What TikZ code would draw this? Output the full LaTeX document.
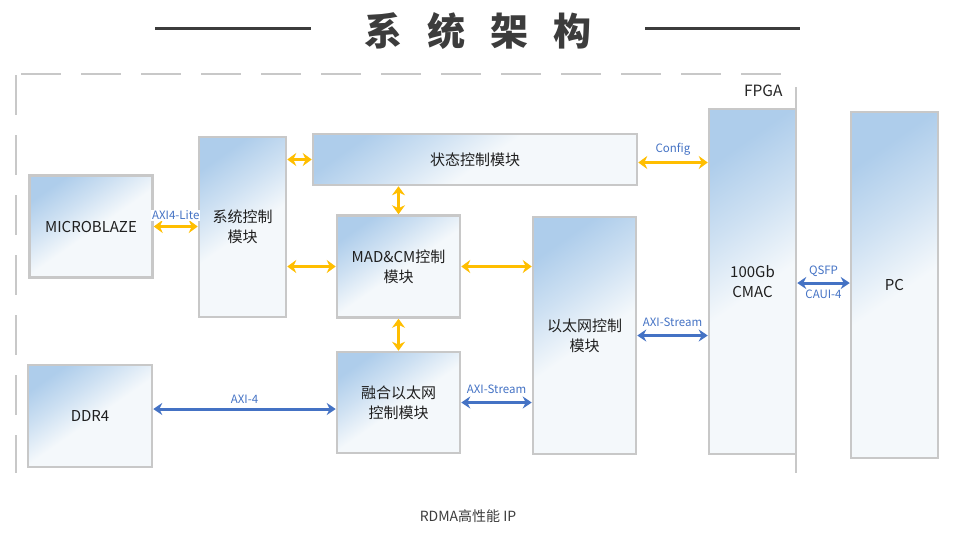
\documentclass[tikz,border=0pt]{standalone}
\usepackage{fontspec}
\setmainfont{Noto Sans CJK SC}
\usetikzlibrary{arrows.meta}
\definecolor{boxblue}{RGB}{174,205,235}
\definecolor{boxwhite}{RGB}{244,248,251}
\definecolor{edgegray}{RGB}{200,200,200}
\definecolor{linkgold}{RGB}{255,190,0}
\definecolor{linkblue}{RGB}{68,114,196}
\definecolor{titlegray}{RGB}{60,60,60}
\pgfdeclareverticalshading{boxshade}{100bp}{color(0bp)=(boxwhite); color(25bp)=(boxwhite); color(48bp)=(boxwhite); color(62bp)=(boxblue!55!boxwhite); color(75bp)=(boxblue); color(100bp)=(boxblue)}
\tikzset{
  blk/.style={draw=edgegray, line width=2.5pt, shade, shading=boxshade, shading angle=35,
    align=center, inner sep=0pt, text=black!88, font=\fontsize{15}{20}\selectfont},
  goldlink/.style={linkgold, line width=3.5pt,
    {Stealth[length=9pt,width=13pt]}-{Stealth[length=9pt,width=13pt]}},
  bluelink/.style={linkblue, line width=3pt,
    {Stealth[length=9pt,width=12pt]}-{Stealth[length=9pt,width=12pt]}},
  lbl/.style={text=linkblue, font=\fontsize{11.5}{12}\selectfont, inner sep=1pt}
}
\begin{document}
\begin{tikzpicture}[x=1pt, y=-1pt]
\useasboundingbox (0,0) rectangle (974,542);

% title
\node[text=titlegray, font=\fontsize{38}{42}\bfseries] (title) at (478,31)
  {系\hspace{25pt}统\hspace{25pt}架\hspace{25pt}构};
\draw[titlegray, line width=3pt] (155,28) -- (311,28);
\draw[titlegray, line width=3pt] (645,28) -- (800,28);

% FPGA border
\draw[edgegray, line width=2pt, dash pattern=on 40pt off 20pt] (21,74) -- (781,74);
\draw[edgegray, line width=2pt, dash pattern=on 40pt off 20pt] (16,75) -- (16,473);
\draw[edgegray, line width=2pt] (796,87) -- (796,473);
\node[font=\fontsize{15.5}{18}\selectfont, text=black!85, anchor=east] (fpga) at (786,91) {FPGA};

% blocks
\node[blk, minimum width=123pt, minimum height=102pt] (mb) at (91,226.5) {MICROBLAZE};
\node[blk, minimum width=87pt, minimum height=180pt] (sys) at (242.5,227) {系统控制\\模块};
\node[blk, minimum width=324pt, minimum height=51pt] (stat) at (475,159.5) {状态控制模块};
\node[blk, minimum width=123pt, minimum height=102pt] (mad) at (398.5,266.5) {MAD\&CM控制\\模块};
\node[blk, minimum width=103pt, minimum height=237pt] (eth) at (584.5,335.5) {以太网控制\\模块};
\node[blk, minimum width=123pt, minimum height=101pt] (fuse) at (398.5,402.5) {融合以太网\\控制模块};
\node[blk, minimum width=124pt, minimum height=102pt] (ddr) at (90,416) {DDR4};
\node[blk, minimum width=87pt, minimum height=345pt] (cmac) at (752.5,281.5) {100Gb\\CMAC};
\node[blk, minimum width=87pt, minimum height=346pt] (pc) at (894.5,285) {PC};

% gold links
\draw[goldlink] (mb.east) -- (mb.east -| sys.west)
  node[lbl, midway, above=4pt, fill=white] {AXI4-Lite};
\draw[goldlink] (stat.west -| sys.east) -- (stat.west);
\draw[goldlink] (mad.west -| sys.east) -- (mad.west);
\draw[goldlink] (mad.north) -- (mad.north |- stat.south);
\draw[goldlink] (mad.south) -- (mad.south |- fuse.north);
\draw[goldlink] (mad.east) -- (mad.east -| eth.west);
\coordinate (cfg) at ([yshift=-3pt]stat.east);
\draw[goldlink] (cfg) -- (cfg -| cmac.west)
  node[lbl, midway, above=4pt] {Config};

% blue links
\coordinate (mem) at ([yshift=7pt]ddr.east);
\draw[bluelink] (mem) -- (mem -| fuse.west)
  node[lbl, midway, above=3pt] {AXI-4};
\draw[bluelink] (fuse.east) -- (fuse.east -| eth.west)
  node[lbl, midway, above=6pt] {AXI-Stream};
\draw[bluelink] (eth.east) -- (eth.east -| cmac.west)
  node[lbl, midway, above=6pt] {AXI-Stream};
\coordinate (net) at ([yshift=-1.5pt]cmac.east);
\draw[bluelink] (net) -- (net -| pc.west)
  node[lbl, midway, above=4pt] {QSFP}
  node[lbl, midway, below=4pt] {CAUI-4};

\node[text=titlegray, font=\fontsize{14}{16}\selectfont] (ip) at (468,516) {RDMA高性能 IP};
\end{tikzpicture}
\end{document}
